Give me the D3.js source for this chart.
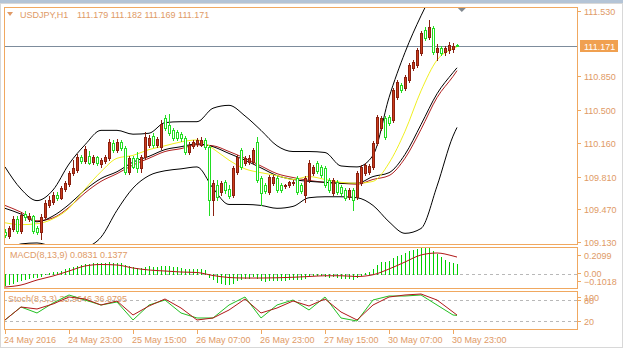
<!DOCTYPE html>
<html>
<head>
<meta charset="utf-8">
<script src="https://cdn.jsdelivr.net/npm/d3@7"></script>
<style>
  body { margin: 0; background: #fff; }
  svg text { font-family: "Liberation Sans", Arial, sans-serif; font-size: 9px; fill: #e09a66; }
</style>
</head>
<body>
<svg width="623" height="351"></svg>
<script>
// ---- data: USDJPY H1, one entry per bar, first bar 24 May 07:00 ----
var open = [109.23,109.19,109.26,109.37,109.24,109.42,109.37,109.40,109.28,109.23,
  109.39,109.51,109.55,109.62,109.59,109.68,109.73,109.85,109.88,110.01,
  109.97,110.02,109.96,110.01,109.94,109.97,110.00,110.16,110.09,110.17,
  110.11,109.86,110.00,110.00,109.90,110.01,110.14,110.23,110.14,110.12,
  110.42,110.35,110.29,110.27,110.25,110.21,110.07,110.13,110.15,110.14,
  110.19,110.12,109.57,109.72,109.65,109.75,109.68,109.62,109.86,110.09,
  109.95,109.96,109.96,110.17,109.80,109.72,109.65,109.74,109.80,109.72,
  109.71,109.72,109.74,109.80,109.72,109.62,109.77,109.85,109.95,109.91,
  109.90,109.77,109.64,109.75,109.70,109.67,109.60,109.67,109.60,109.74,
  109.85,109.86,109.91,110.16,110.31,110.42,110.43,110.40,110.64,110.76,
  110.73,110.81,110.94,110.97,111.09,111.33,111.26,111.35,111.10,111.15,
  111.10,111.13,111.14,111.179];
var high = [109.27,109.30,109.40,109.40,109.44,109.45,109.43,109.41,109.30,109.42,
  109.57,109.61,109.65,109.65,109.71,109.76,109.87,109.98,110.04,110.03,
  110.13,110.08,110.03,110.02,110.00,110.03,110.20,110.19,110.20,110.19,
  110.13,110.02,110.02,110.07,110.03,110.27,110.24,110.26,110.22,110.40,
  110.45,110.46,110.31,110.29,110.27,110.23,110.17,110.19,110.21,110.22,
  110.21,110.14,109.77,109.77,109.76,109.77,109.72,109.92,110.03,110.11,
  110.02,110.03,110.11,110.22,109.82,109.74,109.83,109.83,109.82,109.74,
  109.73,109.76,109.77,109.82,109.74,109.82,109.98,109.93,109.97,109.93,
  109.92,109.80,109.80,109.77,109.72,109.69,109.69,109.69,109.87,109.93,
  109.95,109.94,110.18,110.45,110.44,110.44,110.45,110.73,110.81,110.78,
  110.87,110.99,111.02,111.15,111.32,111.36,111.44,111.37,111.19,111.17,
  111.17,111.21,111.20,111.182];
var low = [109.18,109.17,109.24,109.22,109.22,109.36,109.35,109.22,109.21,109.16,
  109.37,109.49,109.52,109.57,109.58,109.66,109.71,109.83,109.86,109.95,
  109.95,109.94,109.94,109.93,109.91,109.95,109.98,110.07,110.07,110.09,
  109.84,109.84,109.90,109.86,109.86,109.99,110.12,110.12,110.12,110.10,
  110.29,110.24,110.19,110.19,110.18,110.04,110.04,110.11,110.13,110.13,
  110.10,109.41,109.41,109.57,109.62,109.64,109.59,109.60,109.84,109.89,
  109.93,109.94,109.94,109.75,109.51,109.64,109.63,109.72,109.65,109.65,
  109.69,109.70,109.72,109.63,109.64,109.55,109.75,109.83,109.85,109.81,
  109.70,109.65,109.62,109.63,109.62,109.57,109.58,109.46,109.58,109.72,
  109.83,109.84,109.89,110.14,110.29,110.20,110.35,110.38,110.62,110.69,
  110.71,110.79,110.92,110.95,111.07,111.23,111.24,111.08,111.02,111.07,
  111.07,111.09,111.10,111.169];
var close = [109.20,109.28,109.37,109.24,109.41,109.39,109.40,109.24,109.23,109.39,
  109.54,109.57,109.62,109.59,109.69,109.74,109.85,109.90,110.01,109.97,
  110.10,109.95,110.01,109.95,109.98,110.01,110.17,110.09,110.17,110.11,
  109.86,110.00,109.91,109.90,110.01,110.22,110.21,110.14,110.20,110.36,
  110.31,110.26,110.21,110.21,110.21,110.07,110.14,110.17,110.19,110.19,
  110.12,109.57,109.74,109.60,109.74,109.67,109.61,109.90,110.01,109.91,
  110.00,110.00,110.09,109.77,109.64,109.66,109.81,109.81,109.67,109.67,
  109.72,109.75,109.75,109.65,109.66,109.80,109.95,109.91,109.87,109.83,
  109.72,109.67,109.77,109.65,109.64,109.59,109.67,109.57,109.85,109.91,
  109.93,109.92,110.16,110.43,110.42,110.22,110.37,110.71,110.79,110.71,
  110.84,110.97,111.00,111.12,111.30,111.25,111.36,111.10,111.15,111.09,
  111.15,111.18,111.17,111.171];

// indicator lines, read every 4th bar (bars 0,4,...,112) plus the last bar 113
var lineBars = [0,4,8,12,16,20,24,28,32,36,40,44,48,52,56,60,64,68,72,76,80,84,88,92,96,100,104,108,112,113];
var bandUpper = [109.91,109.68,109.56,109.67,109.94,110.14,110.29,110.29,110.25,110.26,110.37,110.38,110.38,110.52,110.55,110.44,110.29,110.13,110.07,110.07,110.06,109.92,109.91,110.03,110.63,111.10,111.48,111.80,112.08,112.14];
var bandMid = [109.48,109.42,109.34,109.40,109.52,109.67,109.79,109.86,109.96,110.02,110.09,110.12,110.15,110.12,110.05,109.98,109.90,109.82,109.78,109.76,109.75,109.74,109.74,109.81,109.85,110.04,110.35,110.67,110.89,110.94];
var bandLower = [109.03,109.11,109.12,109.08,109.04,109.07,109.18,109.46,109.69,109.82,109.87,109.89,109.91,109.69,109.52,109.52,109.51,109.48,109.50,109.59,109.60,109.60,109.59,109.51,109.34,109.22,109.27,109.71,110.23,110.32];
var maSlow = [109.51,109.44,109.35,109.38,109.49,109.64,109.76,109.84,109.93,110.00,110.07,110.10,110.14,110.13,110.07,110.00,109.92,109.84,109.80,109.77,109.75,109.74,109.73,109.78,109.82,110.00,110.30,110.63,110.85,110.91];
var maFast = [109.33,109.31,109.32,109.37,109.48,109.68,109.86,110.00,110.03,110.09,110.13,110.17,110.19,110.10,109.98,109.89,109.85,109.82,109.78,109.81,109.78,109.75,109.74,109.76,109.95,110.28,110.70,111.02,111.14,111.16];

// MACD(8,13,9) main values, one per bar
var macdMain = [-0.085,-0.078,-0.068,-0.055,-0.045,-0.035,-0.028,-0.024,-0.020,-0.012,
  0.000,0.008,0.016,0.022,0.030,0.040,0.050,0.058,0.068,0.074,
  0.082,0.086,0.088,0.090,0.089,0.090,0.095,0.092,0.090,0.087,
  0.072,0.066,0.058,0.052,0.054,0.062,0.064,0.060,0.060,0.070,
  0.068,0.064,0.058,0.055,0.052,0.042,0.040,0.040,0.040,0.040,
  0.034,-0.020,-0.040,-0.062,-0.068,-0.074,-0.080,-0.066,-0.046,-0.040,
  -0.032,-0.026,-0.012,-0.030,-0.048,-0.054,-0.048,-0.044,-0.046,-0.046,
  -0.044,-0.040,-0.036,-0.038,-0.038,-0.030,-0.014,-0.006,-0.002,-0.002,
  -0.010,-0.018,-0.016,-0.022,-0.026,-0.032,-0.030,-0.034,-0.018,-0.004,
  0.008,0.016,0.040,0.074,0.096,0.102,0.108,0.130,0.148,0.156,
  0.168,0.182,0.190,0.198,0.2099,0.206,0.206,0.188,0.160,0.135,
  0.115,0.100,0.090,0.0831];
var macdSignal = [-0.1018,-0.086,-0.046,-0.014,0.026,0.066,0.078,0.074,0.050,0.034,0.026,0.018,0.014,-0.010,-0.026,-0.030,-0.030,-0.028,-0.024,-0.018,-0.012,-0.012,-0.018,-0.004,0.042,0.098,0.154,0.170,0.146,0.1377];

// Stochastic(8,3,3), read every 4th bar as above
var stochK = [22.9,60,42.9,71.4,94.3,80,65.7,74.3,22.9,65.7,80,42.9,28.6,28.6,65.7,88.6,28.6,65.7,80,51.4,88.6,28.6,20,80,91.4,91.4,94.3,65.7,37.1,35.9646];
var stochD = [22.9,60,54.3,68.6,88.6,82.9,65.7,77.1,37.1,62.9,82.9,57.1,22.9,28.6,51.4,82.9,42.9,57.1,77.1,62.9,82.9,45.7,22.9,65.7,88.6,94.3,97.1,80,45.7,36.9795];

// axes
var priceTicks = [111.530, 110.850, 110.500, 110.160, 109.810, 109.470, 109.130];
var bidPrice = 111.171;
var timeTickBars = [0,16,32,48,64,80,96,112];
var timeTickLabels = ["24 May 2016","24 May 23:00","25 May 15:00","26 May 07:00","26 May 23:00","27 May 15:00","30 May 07:00","30 May 23:00"];
var macdTicks = [0.2099, 0.00, -0.1018];
var stochTicks = [100, 80, 20];

var svg = d3.select('svg');
var orange = '#f0a860';
var left = 4, right = 577;

// bar index -> pixel, 4px per bar
var x = d3.scaleLinear().domain([0, 143]).range([5, 577]);
var yMain = d3.scaleLinear().domain([109.13, 111.53]).range([242, 11]);
var yMacd = d3.scaleLinear().domain([-0.1018, 0.2099]).range([287, 248]);
var yStoch = d3.scaleLinear().domain([0, 100]).range([328, 293]);

// window chrome
svg.append('rect').attr('x', 0).attr('y', 0).attr('width', 623).attr('height', 3).attr('fill', '#b4c4d6');
svg.append('rect').attr('x', 0.5).attr('y', 3.5).attr('width', 622).attr('height', 344).attr('fill', 'none').attr('stroke', '#d8d8d8');

var panels = [
  { id: 'main', top: 7, bottom: 244 },
  { id: 'macd', top: 247, bottom: 288 },
  { id: 'stoch', top: 291, bottom: 329 }
];
var defs = svg.append('defs');
panels.forEach(function (p) {
  defs.append('clipPath').attr('id', 'clip-' + p.id)
    .append('rect').attr('x', left).attr('y', p.top).attr('width', right - left).attr('height', p.bottom - p.top);
});

// ---- main panel ----
var main = svg.append('g').attr('clip-path', 'url(#clip-main)');

// bid line
main.append('line')
  .attr('x1', left).attr('x2', right)
  .attr('y1', Math.round(yMain(bidPrice)) + 0.5).attr('y2', Math.round(yMain(bidPrice)) + 0.5)
  .attr('stroke', '#7d8c9c');

var lineGen = function (yScale) {
  return d3.line()
    .x(function (d) { return x(d[0]); })
    .y(function (d) { return yScale(d[1]); })
    .curve(d3.curveMonotoneX);
};
function pairs(values) { return values.map(function (v, i) { return [lineBars[i], v]; }); }

[[bandUpper, '#000'], [bandLower, '#000'], [maSlow, '#b02020'], [bandMid, '#000'], [maFast, '#f0f020']].forEach(function (s) {
  main.append('path')
    .attr('d', lineGen(yMain)(pairs(s[0])))
    .attr('fill', 'none')
    .attr('stroke', s[1])
    .attr('stroke-width', 1);
});

var bars = d3.range(open.length).map(function (i) {
  return { i: i, o: open[i], h: high[i], l: low[i], c: close[i], up: close[i] >= open[i] };
});

var candle = main.selectAll('.candle').data(bars).enter().append('g').attr('class', 'candle');
candle.append('line')
  .attr('x1', function (d) { return x(d.i) + 0.5; })
  .attr('x2', function (d) { return x(d.i) + 0.5; })
  .attr('y1', function (d) { return Math.round(yMain(d.h)); })
  .attr('y2', function (d) { return Math.round(yMain(d.l)) + 1; })
  .attr('stroke', function (d) { return d.up ? '#8a2010' : '#22dd22'; });
candle.append('rect')
  .attr('x', function (d) { return x(d.i) - 0.5; })
  .attr('width', 2)
  .attr('y', function (d) { return Math.round(yMain(Math.max(d.o, d.c))) + 0.5; })
  .attr('height', function (d) { return Math.max(0, Math.round(yMain(Math.min(d.o, d.c))) - Math.round(yMain(Math.max(d.o, d.c)))); })
  .attr('fill', function (d) { return d.up ? '#cc3d1c' : '#fff'; })
  .attr('stroke', function (d) { return d.up ? '#8a2010' : '#22dd22'; });

// chart shift marker
svg.append('path')
  .attr('d', d3.line()([[x(114.2) - 4, 8], [x(114.2) + 4, 8], [x(114.2), 12]]) + 'Z')
  .attr('fill', '#808890');

// title
svg.append('path').attr('d', 'M7,12 L13,12 L10,16 Z').attr('fill', '#e09a66');
svg.append('text').attr('x', 20).attr('y', 18).text('USDJPY,H1');
svg.append('text').attr('x', 77).attr('y', 18)
  .text([open, high, low, close].map(function (a) { return d3.format('.3f')(a[a.length - 1]); }).join(' '));

// ---- MACD panel ----
var macdG = svg.append('g').attr('clip-path', 'url(#clip-macd)');
macdG.append('text').attr('x', 10).attr('y', 258)
  .text('MACD(8,13,9) ' + d3.format('.4f')(macdMain[macdMain.length - 1]) + ' ' + d3.format('.4f')(macdSignal[macdSignal.length - 1]));
macdG.append('line').attr('x1', left).attr('x2', right)
  .attr('y1', Math.round(yMacd(0)) + 0.5).attr('y2', Math.round(yMacd(0)) + 0.5)
  .attr('stroke', '#b8b8b8').attr('stroke-dasharray', '3,3');
// histogram: green columns from the zero line
var zeroY = Math.round(yMacd(0));
macdG.selectAll('.hist').data(macdMain).enter().append('rect')
  .attr('class', 'hist')
  .attr('x', function (d, i) { return x(i); })
  .attr('width', 1)
  .attr('y', function (d) { return Math.min(zeroY, Math.round(yMacd(d))); })
  .attr('height', function (d) { return Math.abs(Math.round(yMacd(d)) - zeroY) + 1; })
  .style('fill', '#00d000');
macdG.append('path')
  .attr('d', lineGen(yMacd)(pairs(macdSignal)))
  .attr('fill', 'none').attr('stroke', '#b01818');

// ---- Stochastic panel ----
var stochG = svg.append('g').attr('clip-path', 'url(#clip-stoch)');
stochG.append('text').attr('x', 8).attr('y', 302)
  .text('Stoch(8,3,3) ' + d3.format('.4f')(stochK[stochK.length - 1]) + ' ' + d3.format('.4f')(stochD[stochD.length - 1]));
[80, 20].forEach(function (lv) {
  stochG.append('line').attr('x1', left).attr('x2', right)
    .attr('y1', Math.round(yStoch(lv)) + 0.5).attr('y2', Math.round(yStoch(lv)) + 0.5)
    .attr('stroke', '#b8b8b8').attr('stroke-dasharray', '3,3');
});
[[stochK, '#22c022'], [stochD, '#b01818']].forEach(function (s) {
  stochG.append('path')
    .attr('d', d3.line().x(function (d) { return x(d[0]); }).y(function (d) { return yStoch(d[1]); })(pairs(s[0])))
    .attr('fill', 'none').attr('stroke', s[1]);
});

// panel frames
panels.forEach(function (p) {
  svg.append('rect')
    .attr('x', left + 0.5).attr('y', p.top + 0.5)
    .attr('width', right - left).attr('height', p.bottom - p.top)
    .attr('fill', 'none').attr('stroke', orange);
});

// ---- right price axis ----
function rightAxis(ticks, scale, fmt, nudge) {
  ticks.forEach(function (t, k) {
    var yy = Math.round(scale(t)) + 0.5;
    var ty = yy + (nudge ? nudge[k] : 0);
    svg.append('line').attr('x1', right).attr('x2', right + 4).attr('y1', ty).attr('y2', ty).attr('stroke', orange);
    svg.append('text').attr('x', 584).attr('y', ty + 3.5).text(fmt(t));
  });
}
rightAxis(priceTicks, yMain, d3.format('.3f'));
// MT4 keeps the extreme labels inside the sub-window
rightAxis(macdTicks, yMacd, function (v) { return v === 0 ? '0.00' : d3.format('.4f')(v); }, [7, -1, -6]);
rightAxis(stochTicks, yStoch, d3.format('d'), [4, 0, 0]);

// bid label
var by = Math.round(yMain(bidPrice));
svg.append('rect').attr('x', 580).attr('y', by - 6).attr('width', 38).attr('height', 12).attr('fill', '#f0a050');
svg.append('text').attr('x', 584).attr('y', by + 3.5).style('fill', '#fff').text(d3.format('.3f')(bidPrice));

// ---- time axis ----
timeTickBars.forEach(function (b, k) {
  var xx = x(b) + 0.5;
  svg.append('line').attr('x1', xx).attr('x2', xx).attr('y1', 329).attr('y2', 334).attr('stroke', orange);
  svg.append('text').attr('x', x(b) - 1).attr('y', 343).text(timeTickLabels[k]);
});
</script>
</body>
</html>
